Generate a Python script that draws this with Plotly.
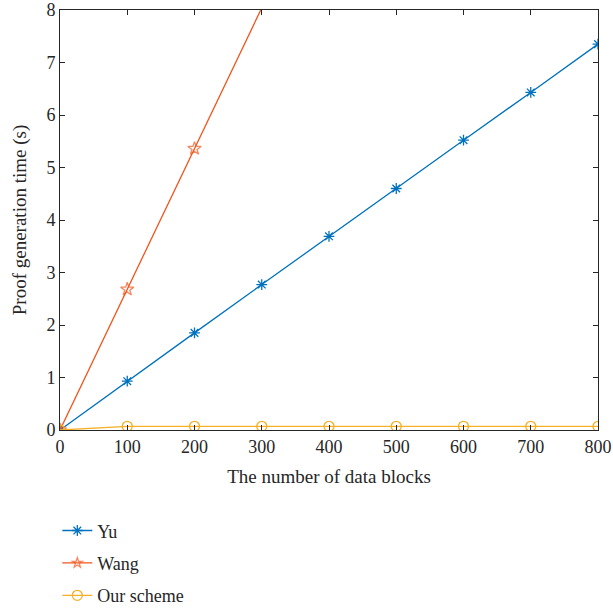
import plotly.graph_objects as go

blocks = [0, 100, 200, 300, 400, 500, 600, 700, 800]
yu = [0, 0.93, 1.85, 2.77, 3.69, 4.60, 5.52, 6.43, 7.35]
wang_blocks = [0, 100, 200, 300]
wang = [0, 2.68, 5.36, 8.04]
ours = [0, 0.07, 0.07, 0.07, 0.07, 0.07, 0.07, 0.07, 0.07]

x_ticks = [0, 100, 200, 300, 400, 500, 600, 700, 800]
y_ticks = [0, 1, 2, 3, 4, 5, 6, 7, 8]

FONT = "Liberation Serif"
Y_MAX = 8

fig = go.Figure()
fig.add_trace(go.Scatter(x=blocks, y=yu, name="Yu", mode="lines+markers",
                         line=dict(color="#0072BD", width=1.3),
                         marker=dict(symbol="asterisk-open", size=9,
                                     line=dict(color="#0072BD", width=1.3)),
                         legendgroup="a"))
fig.add_trace(go.Scatter(x=wang_blocks, y=wang, name="Wang", mode="lines+markers",
                         line=dict(color="#F2541B", width=1.3),
                         marker=dict(symbol="star-open",
                                     size=[10 if v <= Y_MAX else 0 for v in wang],
                                     line=dict(color="#F2541B", width=1.3)),
                         legendgroup="b"))
fig.add_trace(go.Scatter(x=blocks, y=ours, name="Our scheme", mode="lines+markers",
                         line=dict(color="#F5B028", width=1.3),
                         marker=dict(symbol="circle-open", size=10,
                                     line=dict(color="#F5B028", width=1.3)),
                         legendgroup="c"))

axis_common = dict(showline=True, linecolor="#262626", linewidth=1, mirror="ticks",
                   ticks="inside", ticklen=5, tickcolor="#262626", showgrid=False,
                   zeroline=False, ticklabeloverflow="allow",
                   tickfont=dict(family=FONT, size=18, color="#262626"))

fig.update_layout(
    width=613, height=612,
    margin=dict(l=60, r=15, t=10, b=182, autoexpand=False),
    paper_bgcolor="white", plot_bgcolor="white",
    font=dict(family=FONT, size=18, color="#262626"),
    xaxis=dict(range=[0, 800], tickvals=x_ticks, ticktext=[str(v) for v in x_ticks],
               title=dict(text="The number of data blocks", standoff=14,
                          font=dict(family=FONT, size=19)),
               **axis_common),
    yaxis=dict(range=[0, Y_MAX], tickvals=y_ticks, ticktext=[str(v) for v in y_ticks],
               title=dict(text="Proof generation time (s)", standoff=14,
                          font=dict(family=FONT, size=19)),
               **axis_common),
    legend=dict(x=-0.005, y=-0.196, xanchor="left", yanchor="top",
                traceorder="grouped", tracegroupgap=6,
                font=dict(family=FONT, size=18, color="#262626"),
                bgcolor="rgba(0,0,0,0)"),
    showlegend=True,
)

fig.write_html("out.html")
